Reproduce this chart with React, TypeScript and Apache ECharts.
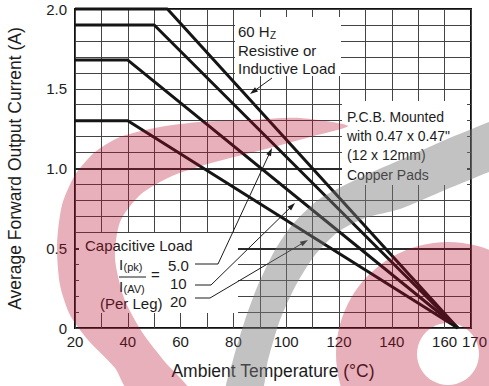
import React, { useEffect, useRef } from 'react';
import * as echarts from 'echarts';

// ---- data ----
const xTickLabels = [20, 40, 60, 80, 100, 120, 140, 160, 170];
const yTickLabels = ['0', '0.5', '1.0', '1.5', '2.0'];
const majorGridValues = [0.5, 1.0];
const curveNames = ['Resistive or Inductive Load', 'Capacitive 5.0', 'Capacitive 10', 'Capacitive 20'];
const curveTemps = [
  [20, 55, 165],
  [20, 50, 165],
  [20, 40, 165],
  [20, 40, 165],
];
const curveAmps = [
  [2.0, 2.0, 0],
  [1.9, 1.9, 0],
  [1.68, 1.68, 0],
  [1.3, 1.3, 0],
];
const xAxisName = 'Ambient Temperature (\u00B0C)';
const yAxisName = 'Average Forward Output Current (A)';
const box1Lines = ['Resistive or', 'Inductive Load'];
const pcbLines = ['P.C.B. Mounted', 'with 0.47 x 0.47"', '(12 x 12mm)', 'Copper Pads'];
const ratioLabels = ['5.0', '10', '20'];

const FONT = '"Liberation Sans", Arial, Helvetica, sans-serif';
const INK = '#1c1c1c';

function txt(text: string, x: number, y: number, size: number, extra: any = {}) {
  return {
    type: 'text',
    x,
    y,
    z: 8,
    style: { text, fontSize: size, fontFamily: FONT, fill: INK, align: 'left', verticalAlign: 'middle', ...extra },
  };
}

function arrowPolyline(points: number[][], z = 8) {
  const n = points.length;
  const [x1, y1] = points[n - 2];
  const [x2, y2] = points[n - 1];
  const dx = x2 - x1, dy = y2 - y1;
  const L = Math.hypot(dx, dy);
  const ux = dx / L, uy = dy / L;
  const hl = 8, hw = 2.6;
  const bx = x2 - ux * hl, by = y2 - uy * hl;
  const pts = points.slice(0, n - 1).concat([[bx + ux * 1, by + uy * 1]]);
  return [
    { type: 'polyline', z, shape: { points: pts }, style: { stroke: INK, lineWidth: 1, fill: null } },
    {
      type: 'polygon', z,
      shape: { points: [[x2, y2], [bx - uy * hw, by + ux * hw], [bx + uy * hw, by - ux * hw]] },
      style: { fill: INK },
    },
  ];
}

// watermark shapes (decoration)
const pinkFill = 'rgba(185,10,40,0.32)';
const greyFill = 'rgba(120,120,120,0.45)';
const pinkC = [
  [348, 126], [300, 118], [250, 120], [200, 122], [160, 127], [120, 137], [95, 152], [75, 175],
  [62, 205], [57, 245], [60, 285], [70, 315], [88, 340], [115, 368], [130, 392],
  [190, 392], [165, 362], [142, 332], [124, 298], [115, 258], [120, 222], [140, 195], [172, 176],
  [215, 162], [262, 150], [310, 137],
];
const greyBand = [
  [500, 118], [489, 122], [445, 140], [400, 160], [355, 180], [318, 200], [292, 225], [275, 250],
  [258, 285], [245, 320], [233, 360], [226, 395],
  [260, 395], [268, 360], [280, 320], [296, 285], [315, 255], [338, 232], [365, 218], [400, 209],
  [445, 190], [489, 172], [500, 168],
];

export default function App() {
  const ref = useRef<HTMLDivElement>(null);
  useEffect(() => {
    document.body.style.margin = '0';
    const chart = echarts.init(ref.current!, undefined, { renderer: 'svg' });

    const graphics: any[] = [
      // annotation boxes
      { type: 'rect', z: 7, shape: { x: 235, y: 17, width: 106, height: 59 }, style: { fill: '#fff' } },
      { type: 'rect', z: 7, shape: { x: 342, y: 101, width: 125, height: 84 }, style: { fill: '#fff' } },
      { type: 'rect', z: 7, shape: { x: 79, y: 233, width: 159, height: 80 }, style: { fill: '#fff' } },
      txt('60 H', 238, 31.5, 15),
      txt('Z', 270, 35.5, 10),
      txt(box1Lines[0], 238, 50, 15),
      txt(box1Lines[1], 238, 68.5, 15),
      ...pcbLines.map((t, i) => txt(t, 347, 117 + i * 19.2, 14)),
      txt('Capacitive Load', 85, 245, 15),
      txt('I', 119, 264.5, 15),
      txt('(pk)', 123.5, 267, 11),
      { type: 'line', z: 8, shape: { x1: 119, y1: 277, x2: 146, y2: 277 }, style: { stroke: INK, lineWidth: 1 } },
      txt('I', 119, 286, 15),
      txt('(AV)', 123.5, 289, 11),
      txt('=', 151, 274, 15),
      txt(ratioLabels[0], 168, 265, 15),
      txt(ratioLabels[1], 170, 283.5, 15),
      txt(ratioLabels[2], 170, 301, 15),
      txt('(Per Leg)', 100, 303.5, 15),
      ...arrowPolyline([[272, 78], [250, 94]]),
      ...arrowPolyline([[195, 264], [218, 264], [272, 148]]),
      ...arrowPolyline([[195, 285], [211, 285], [295, 203]]),
      ...arrowPolyline([[195, 298], [210, 298], [308, 240]]),
      // watermark
      { type: 'polygon', z: 10, silent: true, shape: { points: pinkC, smooth: 0.25 }, style: { fill: pinkFill } },
      { type: 'ring', z: 10, silent: true, shape: { cx: 448, cy: 354, r: 112, r0: 31 }, style: { fill: pinkFill } },
      { type: 'polygon', z: 10, silent: true, shape: { points: greyBand, smooth: 0.25 }, style: { fill: greyFill } },
    ];

    chart.setOption({
      animation: false,
      backgroundColor: '#ffffff',
      grid: {
        left: 75, top: 9, width: 396, height: 319,
        show: true, borderColor: '#111', borderWidth: 2, backgroundColor: 'transparent',
        containLabel: false, outerBoundsMode: 'none',
      },
      xAxis: {
        type: 'value', min: 20, max: 170, interval: 10,
        axisLine: { show: false }, axisTick: { show: false },
        splitLine: { show: true, lineStyle: { color: '#444', width: 1 } },
        axisLabel: {
          showMinLabel: true, showMaxLabel: true,
          formatter: (v: number) => {
            const r = Math.round(v);
            if (!xTickLabels.includes(r)) return '';
            return r === 170 ? '{r|' + r + '}' : String(r);
          },
          rich: { r: { color: INK, fontSize: 15, fontFamily: FONT, padding: [0, 0, 3, 7] } },
          color: INK, fontSize: 15, fontFamily: FONT, margin: 6,
        },
        name: xAxisName, nameLocation: 'middle', nameGap: 34,
        nameTextStyle: { color: INK, fontSize: 17.5, fontFamily: FONT },
      },
      yAxis: {
        type: 'value', min: 0, max: 2, interval: 0.1,
        axisLine: { show: false }, axisTick: { show: false },
        splitLine: { show: true, lineStyle: { color: '#444', width: 1 } },
        axisLabel: {
          showMinLabel: true, showMaxLabel: true,
          formatter: (v: number) => {
            const r = Math.round(v * 10) / 10;
            const hit = yTickLabels.find((s) => Math.abs(parseFloat(s) - r) < 1e-6);
            return hit ?? '';
          },
          color: INK, fontSize: 15, fontFamily: FONT, margin: 8,
        },
        name: yAxisName, nameLocation: 'middle', nameGap: 51,
        nameTextStyle: { color: INK, fontSize: 17.5, fontFamily: FONT },
      },
      series: curveTemps.map((temps, i) => ({
        name: curveNames[i],
        type: 'line',
        data: temps.map((t, j) => [t, curveAmps[i][j]]),
        symbol: 'none',
        clip: false,
        z: 3,
        lineStyle: { color: '#151515', width: 3 },
        markLine: i === 0
          ? {
              silent: true, symbol: 'none', animation: false, z: 2,
              label: { show: false },
              lineStyle: { color: '#2a2a2a', width: 2, type: 'solid' },
              data: majorGridValues.map((v) => ({ yAxis: v })),
            }
          : undefined,
      })),
      graphic: graphics,
    });

    return () => chart.dispose();
  }, []);

  return <div ref={ref} style={{ width: 489, height: 386 }} />;
}
